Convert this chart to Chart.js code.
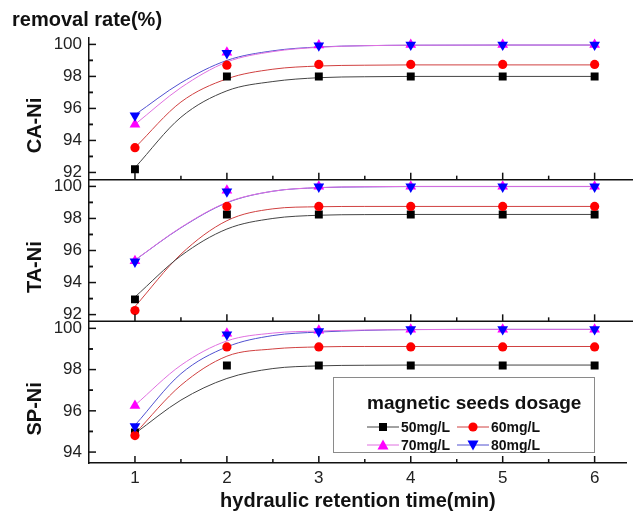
<!DOCTYPE html>
<html>
<head>
<meta charset="utf-8">
<script src="https://cdn.jsdelivr.net/npm/chart.js@4.4.1/dist/chart.umd.min.js"></script>
<style>
  html, body { margin: 0; padding: 0; background: #fff; }
  #wrap { position: relative; width: 633px; height: 511px; }
  .legend {
    position: absolute; left: 333px; top: 377px; width: 262px; height: 76px;
    box-sizing: border-box; border: 1px solid #8a8a8a;
    font-family: "Liberation Sans", Arial, sans-serif; font-weight: bold; color: #111;
  }
  .legend .ttl { position: absolute; left: 33px; top: 14px; font-size: 19px; line-height: 22px; }
  .legend .item { position: absolute; font-size: 14px; line-height: 16px; display: flex; align-items: center; }
  .legend svg { margin-right: 2px; }
</style>
</head>
<body>
<div id="wrap">
  <canvas id="hrtChart" width="633" height="511"></canvas>
  <div class="legend">
    <div class="ttl">magnetic seeds dosage</div>
    <div class="item" style="left:33px;top:41px">
      <svg width="32" height="12"><line x1="0" y1="6" x2="32" y2="6" stroke="#444" stroke-width="1"/><rect x="12" y="2" width="8" height="8" fill="#000"/></svg>50mg/L
    </div>
    <div class="item" style="left:123px;top:41px">
      <svg width="32" height="12"><line x1="0" y1="6" x2="32" y2="6" stroke="#d04040" stroke-width="1"/><circle cx="16" cy="6" r="4.6" fill="#ff0000"/></svg>60mg/L
    </div>
    <div class="item" style="left:33px;top:59px">
      <svg width="32" height="12"><line x1="0" y1="6" x2="32" y2="6" stroke="#e070e0" stroke-width="1"/><polygon points="16,0.5 21.5,10.5 10.5,10.5" fill="#ff00ff"/></svg>70mg/L
    </div>
    <div class="item" style="left:123px;top:59px">
      <svg width="32" height="12"><line x1="0" y1="6" x2="32" y2="6" stroke="#5050d0" stroke-width="1"/><polygon points="10.5,1.5 21.5,1.5 16,11.5" fill="#0000ff"/></svg>80mg/L
    </div>
  </div>
</div>
<script>
const FONT = '"Liberation Sans", Arial, sans-serif';

// hydraulic retention time (min)
const hrt = [1, 2, 3, 4, 5, 6];
const xTicks = [1, 2, 3, 4, 5, 6];
const dosages = ['50mg/L', '60mg/L', '70mg/L', '80mg/L'];

// measured removal rate (%)
const caNi50 = [92.2, 98.0, 98.0, 98.0, 98.0, 98.0];
const caNi60 = [93.55, 98.7, 98.75, 98.75, 98.75, 98.75];
const caNi70 = [95.0, 99.5, 99.95, 99.98, 99.98, 99.98];
const caNi80 = [95.55, 99.45, 99.93, 99.97, 99.97, 99.97];
const taNi50 = [92.95, 98.25, 98.25, 98.25, 98.25, 98.25];
const taNi60 = [92.25, 98.75, 98.75, 98.75, 98.75, 98.75];
const taNi70 = [95.35, 99.75, 100.0, 100.0, 100.0, 100.0];
const taNi80 = [95.3, 99.68, 99.98, 99.98, 99.98, 99.98];
const spNi50 = [94.95, 98.2, 98.2, 98.2, 98.2, 98.2];
const spNi60 = [94.8, 99.1, 99.1, 99.1, 99.1, 99.1];
const spNi70 = [96.25, 99.75, 99.9, 99.95, 99.95, 99.95];
const spNi80 = [95.25, 99.7, 99.85, 99.95, 99.95, 99.95];

// fitted curves at these times
const fitX = [1, 1.5, 2, 2.5, 3, 3.5, 4, 5, 6];
const caFit50 = [92.3, 95.45, 97.1, 97.68, 97.92, 97.98, 98.0, 98.0, 98.0];
const caFit60 = [93.55, 96.4, 97.85, 98.45, 98.65, 98.7, 98.72, 98.72, 98.72];
const caFit70 = [95.0, 97.3, 98.9, 99.55, 99.82, 99.92, 99.95, 99.96, 99.96];
const caFit80 = [95.6, 97.6, 99.0, 99.6, 99.84, 99.92, 99.95, 99.96, 99.96];
const taFit50 = [93.1, 95.67, 97.34, 98.0, 98.2, 98.24, 98.25, 98.25, 98.25];
const taFit60 = [92.5, 95.77, 97.86, 98.6, 98.73, 98.75, 98.75, 98.75, 98.75];
const taFit70 = [95.4, 97.44, 99.0, 99.7, 99.93, 99.98, 100.0, 100.0, 100.0];
const taFit80 = [95.4, 97.42, 98.98, 99.7, 99.92, 99.97, 99.99, 99.99, 99.99];
const spFit50 = [94.9, 96.52, 97.57, 98.05, 98.18, 98.21, 98.22, 98.22, 98.22];
const spFit60 = [94.9, 97.24, 98.65, 99.0, 99.1, 99.12, 99.12, 99.12, 99.12];
const spFit70 = [96.27, 98.21, 99.39, 99.77, 99.87, 99.92, 99.94, 99.95, 99.95];
const spFit80 = [95.3, 97.8, 99.1, 99.65, 99.82, 99.9, 99.94, 99.95, 99.95];

// y tick labels per panel
const caTicks = [92, 94, 96, 98, 100];
const taTicks = [92, 94, 96, 98, 100];
const spTicks = [94, 96, 98, 100];

const styles = [
  { point: '#000000', line: '#444444', shape: 'rect', radius: 5.6, rot: 0, order: 4 },
  { point: '#ff0000', line: '#d04040', shape: 'circle', radius: 4.6, rot: 0, order: 3 },
  { point: '#ff00ff', line: '#e070e0', shape: 'triangle', radius: 6.2, rot: 0, order: 2 },
  { point: '#0000ff', line: '#5050d0', shape: 'triangle', radius: 6.2, rot: 180, order: 1 }
];

const panels = [
  { id: 'yCA', title: 'CA-Ni', ticks: caTicks, min: 91.55, max: 100.4, weight: 3, pts: [caNi50, caNi60, caNi70, caNi80], fits: [caFit50, caFit60, caFit70, caFit80] },
  { id: 'yTA', title: 'TA-Ni', ticks: taTicks, min: 91.58, max: 100.42, weight: 2, pts: [taNi50, taNi60, taNi70, taNi80], fits: [taFit50, taFit60, taFit70, taFit80] },
  { id: 'ySP', title: 'SP-Ni', ticks: spTicks, min: 93.47, max: 100.34, weight: 1, pts: [spNi50, spNi60, spNi70, spNi80], fits: [spFit50, spFit60, spFit70, spFit80] }
];

const datasets = [];
panels.forEach(p => {
  p.fits.forEach((arr, i) => {
    datasets.push({
      label: p.title + ' fit ' + dosages[i],
      yAxisID: p.id,
      data: fitX.map((x, k) => ({ x, y: arr[k] })),
      showLine: true,
      borderColor: styles[i].line,
      borderWidth: 1,
      pointRadius: 0,
      cubicInterpolationMode: 'monotone',
      order: 10
    });
  });
  p.pts.forEach((arr, i) => {
    const s = styles[i];
    datasets.push({
      label: p.title + ' ' + dosages[i],
      yAxisID: p.id,
      data: hrt.map((x, k) => ({ x, y: arr[k] })),
      showLine: false,
      pointStyle: s.shape,
      pointRotation: s.rot,
      pointRadius: s.radius,
      pointBackgroundColor: s.point,
      pointBorderColor: s.point,
      pointBorderWidth: 0,
      order: s.order
    });
  });
});

const AXIS = '#111111';

// inward ticks and panel separators
const panelTicks = {
  id: 'panelTicks',
  afterDraw(chart) {
    const ctx = chart.ctx;
    const area = chart.chartArea;
    const xs = chart.scales.x;
    ctx.save();
    ctx.strokeStyle = AXIS;
    ctx.lineWidth = 1.5;
    panels.forEach((p, idx) => {
      const ys = chart.scales[p.id];
      if (idx < panels.length - 1) {
        ctx.beginPath();
        ctx.moveTo(area.left, ys.bottom);
        ctx.lineTo(chart.width, ys.bottom);
        ctx.stroke();
      }
      xTicks.forEach(v => {
        const px = xs.getPixelForValue(v);
        ctx.beginPath(); ctx.moveTo(px, ys.bottom); ctx.lineTo(px, ys.bottom - 7); ctx.stroke();
        const mx = xs.getPixelForValue(v + 0.5);
        if (mx < area.right) {
          ctx.beginPath(); ctx.moveTo(mx, ys.bottom); ctx.lineTo(mx, ys.bottom - 4); ctx.stroke();
        }
      });
      p.ticks.forEach(v => {
        const py = ys.getPixelForValue(v);
        ctx.beginPath(); ctx.moveTo(area.left, py); ctx.lineTo(area.left + 7, py); ctx.stroke();
        [v - 1, v + 1].forEach(m => {
          if (m > ys.min && m < ys.max) {
            const my = ys.getPixelForValue(m);
            ctx.beginPath(); ctx.moveTo(area.left, my); ctx.lineTo(area.left + 4, my); ctx.stroke();
          }
        });
      });
    });
    ctx.restore();
  }
};

const scales = {
  x: {
    type: 'linear',
    min: 0.5,
    max: 6.35,
    afterBuildTicks: s => { s.ticks = xTicks.map(v => ({ value: v })); },
    afterFit: s => { s.height = 48; },
    grid: { display: false, drawTicks: false },
    border: { display: true, color: AXIS, width: 1.5 },
    ticks: { padding: 5, color: '#222', font: { family: FONT, size: 17 } },
    title: {
      display: true, text: 'hydraulic retention time(min)', color: '#111',
      font: { family: FONT, size: 20, weight: 'bold', lineHeight: 1 },
      padding: { top: 0, bottom: 0 }
    }
  }
};
panels.forEach(p => {
  scales[p.id] = {
    type: 'linear',
    position: 'left',
    stack: 'panels',
    stackWeight: 1,
    weight: p.weight,
    min: p.min,
    max: p.max,
    afterBuildTicks: s => { s.ticks = p.ticks.map(v => ({ value: v })); },
    afterFit: s => { s.width = 77; },
    grid: { display: false, drawTicks: false },
    border: { display: true, color: AXIS, width: 1.5 },
    ticks: { padding: 7, autoSkip: false, color: '#222', font: { family: FONT, size: 17 } },
    title: {
      display: true, text: p.title + '      ', color: '#111',
      font: { family: FONT, size: 20, weight: 'bold', lineHeight: 1.2 },
      padding: { top: 11, bottom: 0 }
    }
  };
});

new Chart(document.getElementById('hrtChart'), {
  type: 'scatter',
  data: { datasets },
  options: {
    responsive: false,
    animation: false,
    layout: { padding: { left: 12, right: 0, top: 0, bottom: 0 } },
    plugins: {
      legend: { display: false },
      tooltip: { enabled: false },
      title: {
        display: true,
        text: 'removal rate(%)',
        align: 'start',
        color: '#111',
        font: { family: FONT, size: 20, weight: 'bold', lineHeight: 1.2 },
        padding: { top: 8, bottom: 6 }
      }
    },
    scales
  },
  plugins: [panelTicks]
});
</script>
</body>
</html>
